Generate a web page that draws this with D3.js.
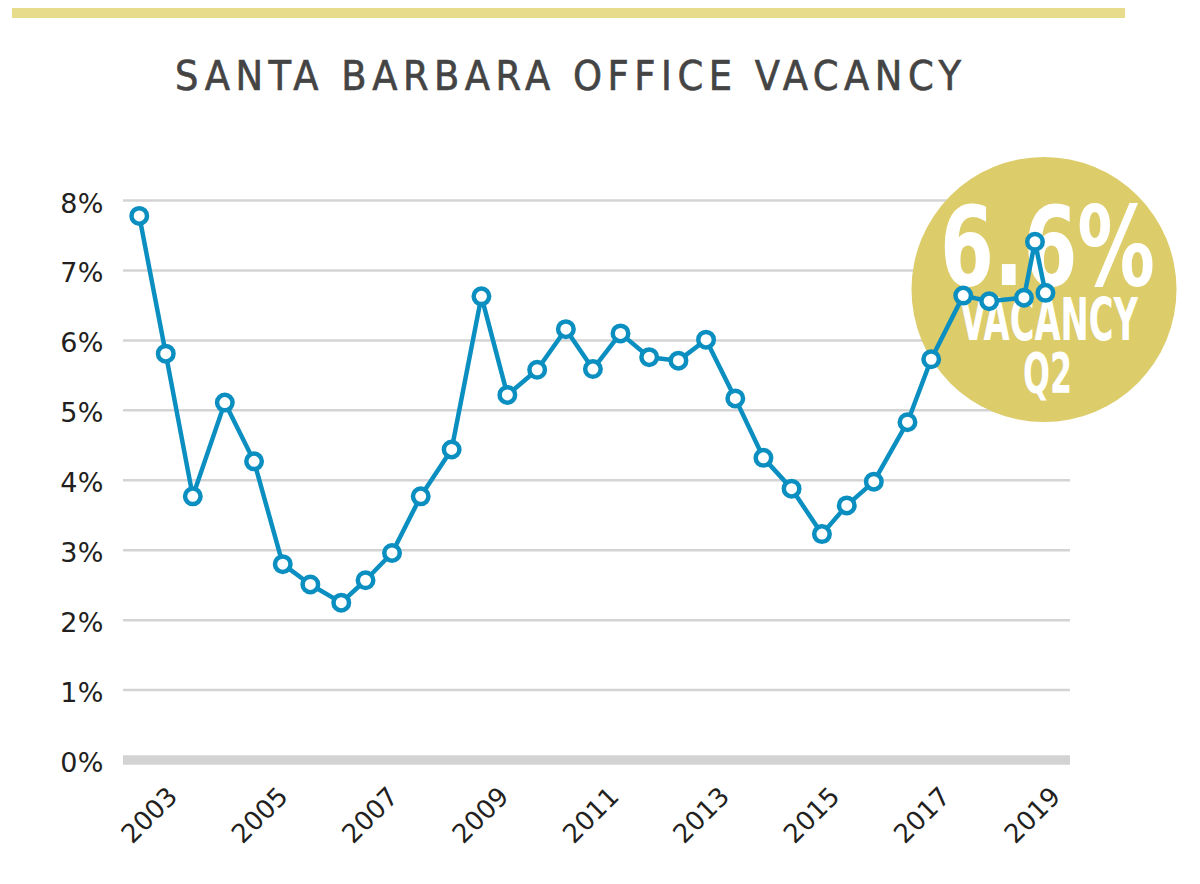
<!DOCTYPE html>
<html>
<head>
<meta charset="utf-8">
<script src="https://cdn.jsdelivr.net/npm/d3@7"></script>
<style>
  html, body { margin: 0; padding: 0; background: #fff; }
  svg { display: block; }
</style>
</head>
<body>
<div id="chart"></div>
<script>
// ---- Data ----
const title = "SANTA BARBARA OFFICE VACANCY";
// time position of each observation (decimal years)
const periods = [
  2002.28, 2002.76, 2003.25, 2003.83, 2004.36, 2004.88, 2005.38, 2005.94,
  2006.38, 2006.86, 2007.38, 2007.94, 2008.48, 2008.95, 2009.49, 2010.01,
  2010.50, 2011.00, 2011.52, 2012.05, 2012.55, 2013.08, 2013.59, 2014.10,
  2014.65, 2015.10, 2015.59, 2016.20, 2016.63, 2017.21, 2017.68, 2018.31,
  2018.51, 2018.70
];
// office vacancy rate, %
const vacancy = [
  7.78, 5.81, 3.77, 5.11, 4.27, 2.80, 2.51, 2.25,
  2.57, 2.96, 3.77, 4.44, 6.63, 5.22, 5.58, 6.16,
  5.59, 6.10, 5.76, 5.71, 6.01, 5.17, 4.32, 3.88,
  3.23, 3.64, 3.98, 4.83, 5.73, 6.64, 6.56, 6.61,
  7.41, 6.68
];
const yTicks = [0, 1, 2, 3, 4, 5, 6, 7, 8];
const xTicks = [2003, 2005, 2007, 2009, 2011, 2013, 2015, 2017, 2019];
const badgeLines = ["6.6%", "VACANCY", "Q2"];

// ---- Layout ----
const W = 1200, H = 884;
const plotLeft = 123, plotRight = 1070;
const blue = "#0b8fc0";
const gold = "#dccc6a";

const svg = d3.select("#chart").append("svg")
  .attr("width", W).attr("height", H);

svg.append("rect").attr("width", W).attr("height", H).attr("fill", "#fff");

// top decorative bar
svg.append("rect")
  .attr("x", 12).attr("y", 8).attr("width", 1113).attr("height", 10)
  .attr("fill", "#e7dc8c");

// title
svg.append("text")
  .attr("x", 175).attr("y", 90)
  .attr("font-family", "'DejaVu Sans Condensed', 'DejaVu Sans', sans-serif")
  .attr("font-stretch", "condensed")
  .attr("font-size", 41)
  .attr("fill", "#444")
  .attr("stroke", "#444").attr("stroke-width", 0.6)
  .attr("textLength", 786)
  .attr("lengthAdjust", "spacing")
  .text(title);

const x = d3.scaleLinear().domain([2003, 2019]).range([179, 1062]);
const y = d3.scaleLinear().domain([0, 8]).range([760, 200.5]);

// gridlines
svg.append("g").selectAll("line")
  .data(yTicks.filter(d => d > 0))
  .join("line")
  .attr("x1", plotLeft).attr("x2", plotRight)
  .attr("y1", d => y(d)).attr("y2", d => y(d))
  .attr("stroke", "#d4d4d4").attr("stroke-width", 2.5);

// baseline band
svg.append("rect")
  .attr("x", plotLeft).attr("y", y(0) - 4.75)
  .attr("width", plotRight - plotLeft).attr("height", 9.5)
  .attr("fill", "#d3d3d3");

// y labels
svg.append("g").selectAll("text")
  .data(yTicks)
  .join("text")
  .attr("x", 104).attr("y", d => y(d) + 12)
  .attr("text-anchor", "end")
  .attr("font-family", "'DejaVu Sans', sans-serif")
  .attr("font-size", 27)
  .attr("letter-spacing", 0.5)
  .attr("fill", "#231f20")
  .text(d => d + "%");

// x labels
svg.append("g").selectAll("text")
  .data(xTicks)
  .join("text")
  .attr("transform", d => `translate(${x(d)},798) rotate(-45)`)
  .attr("text-anchor", "end")
  .attr("font-family", "'DejaVu Sans', sans-serif")
  .attr("font-size", 26)
  .attr("fill", "#231f20")
  .text(d => d);

// badge
const badge = svg.append("g");
badge.append("circle")
  .attr("cx", 1044).attr("cy", 289.5).attr("r", 132.5)
  .attr("fill", gold);
const badgeSpec = [
  { y: 285, size: 110, len: 215, cx: 1047.5 },
  { y: 340, size: 58, len: 178, cx: 1049 },
  { y: 392, size: 56, len: 49, cx: 1047.5 }
];
badge.selectAll("text")
  .data(badgeLines)
  .join("text")
  .attr("x", (d, i) => badgeSpec[i].cx)
  .attr("y", (d, i) => badgeSpec[i].y)
  .attr("text-anchor", "middle")
  .attr("font-family", "'DejaVu Sans Condensed', 'DejaVu Sans', sans-serif")
  .attr("font-weight", "bold")
  .attr("font-size", (d, i) => badgeSpec[i].size)
  .attr("textLength", (d, i) => badgeSpec[i].len)
  .attr("lengthAdjust", "spacingAndGlyphs")
  .attr("fill", "#fff")
  .text(d => d);

// line
const pts = periods.map((p, i) => ({ t: p, v: vacancy[i] }));
svg.append("path")
  .datum(pts)
  .attr("fill", "none")
  .attr("stroke", blue)
  .attr("stroke-width", 4.5)
  .attr("stroke-linejoin", "round")
  .attr("d", d3.line().x(d => x(d.t)).y(d => y(d.v)));

svg.append("g").selectAll("circle")
  .data(pts)
  .join("circle")
  .attr("cx", d => x(d.t)).attr("cy", d => y(d.v))
  .attr("r", 7.75)
  .attr("fill", "#fff")
  .attr("stroke", blue)
  .attr("stroke-width", 4.5);
</script>
</body>
</html>
